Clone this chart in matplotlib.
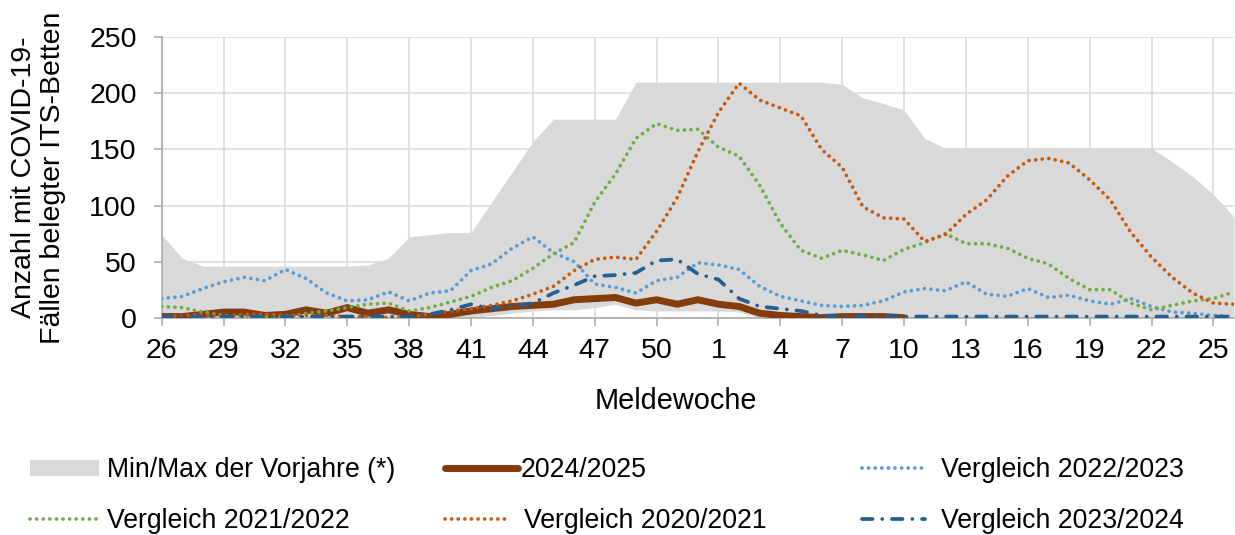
import numpy as np
import matplotlib
matplotlib.use('Agg')
import matplotlib.pyplot as plt
from matplotlib.patches import Patch
from matplotlib.lines import Line2D

plt.rcParams.update({'font.family': ['Liberation Sans', 'DejaVu Sans'], 'font.size': 20.5})

# week index 0..52 = Meldewoche 26 (2024) .. 26 (2025)
week_idx = np.arange(53)
tick_pos = list(range(0, 52, 3))
tick_labels = ['26', '29', '32', '35', '38', '41', '44', '47', '50', '1', '4', '7',
               '10', '13', '16', '19', '22', '25']

prev_max = [74, 53, 46, 46, 46, 46, 46, 46, 46, 46, 47, 53, 72, 74, 76, 76, 103, 130, 157, 177,
            177, 177, 177, 210, 210, 210, 210, 210, 210, 210, 210, 210, 210, 208, 196, 191, 185, 160,
            151, 151, 151, 151, 151, 151, 151, 151, 151, 151, 151, 139, 126, 110, 90]
prev_min = [0, 0, 0, 0, 0, 0, 0, 0, 0, 0, 0, 0, 0, 0, 0, 0, 2, 4, 6, 7,
            7, 9, 12, 7, 6, 6, 6, 6, 5, 0, 0, 0, 0, 0, 0, 0, 0, 0,
            0, 0, 0, 0, 0, 0, 0, 0, 0, 0, 0, 0, 0, 0, 0]
s2425 = [1, 1, 3, 5, 5, 2, 3, 7, 4, 9, 4, 7, 3, 1, 3, 6, 8, 10, 11, 12,
         16, 17, 18, 13, 16, 12, 16, 12, 10, 4, 2, 1, 0, 1, 1, 1, 0] + [np.nan] * 16
s2223 = [17, 19, 26, 32, 36, 33, 43, 35, 22, 15, 16, 23, 15, 22, 24, 42, 48, 62, 72, 58,
         50, 30, 27, 22, 33, 36, 49, 47, 43, 28, 19, 15, 11, 10, 11, 15, 23, 26,
         24, 32, 21, 19, 26, 18, 20, 15, 12, 17, 10, 5, 4, 2, 1]
s2122 = [10, 9, 5, 2, 1, 1, 0, 4, 6, 9, 12, 13, 6, 9, 14, 19, 27, 33, 44, 57,
         67, 103, 128, 160, 173, 167, 168, 152, 144, 118, 84, 60, 53, 60, 56, 51, 61, 67,
         75, 66, 66, 62, 53, 48, 35, 25, 25, 13, 7, 11, 15, 17, 23]
s2021 = [1, 2, 3, 1, 3, 3, 2, 2, 2, 1, 1, 0, 1, 3, 6, 8, 11, 15, 21, 28,
         42, 52, 54, 52, 77, 107, 148, 183, 209, 194, 187, 180, 150, 134, 99, 89, 88, 68,
         74, 92, 105, 126, 140, 142, 138, 123, 105, 76, 54, 36, 22, 13, 12]
s2324 = [1, 1, 1, 1, 1, 1, 1, 1, 1, 1, 1, 1, 1, 3, 7, 12, 8, 10, 13, 22,
         29, 37, 38, 40, 51, 52, 39, 34, 17, 10, 8, 6, 2, 1, 1, 1, 1, 1,
         1, 1, 1, 1, 1, 1, 1, 1, 1, 1, 1, 1, 1, 1, 1]

W, H = 1235, 535
fig = plt.figure(figsize=(W / 100, H / 100), dpi=100)
ax = fig.add_axes([161.7 / W, 1 - 317.7 / H, (1234 - 161.7) / W, (317.7 - 37.3) / H])

c_gray = '#d9d9d9'
c_brown = '#843c0c'
c_lblue = '#5b9bd5'
c_green = '#70ad47'
c_orange = '#c55a11'
c_dblue = '#255e91'
dot = (0, (0.01, 1.75))
dashdot = (0, (2.8, 2.6, 0.01, 2.6))
lw_dot = 2.7

ax.fill_between(week_idx, prev_min, prev_max, color=c_gray, lw=0, zorder=1)
ax.plot(week_idx[:len(s2425)], s2425, color=c_brown, lw=5, solid_capstyle='round',
        solid_joinstyle='round', zorder=3)
ax.plot(week_idx, s2223, color=c_lblue, lw=lw_dot, ls=dot, dash_capstyle='round', zorder=4)
ax.plot(week_idx, s2122, color=c_green, lw=lw_dot, ls=dot, dash_capstyle='round', zorder=4)
ax.plot(week_idx, s2021, color=c_orange, lw=lw_dot, ls=dot, dash_capstyle='round', zorder=4)
ax.plot(week_idx, s2324, color=c_dblue, lw=2.7, ls=dashdot, dash_capstyle='round', zorder=5)

ax.set_xlim(0, 52)
ax.set_ylim(0, 250)
ax.set_yticks([0, 50, 100, 150, 200, 250])
ax.set_xticks(tick_pos)
ax.set_xticklabels(tick_labels)
ax.grid(True, color=c_gray, lw=1.1, zorder=0)
ax.set_axisbelow(True)
for s in ['top', 'right']:
    ax.spines[s].set_visible(False)
for s in ['left', 'bottom']:
    ax.spines[s].set_color('#a6a6a6')
    ax.spines[s].set_linewidth(1.1)
ax.tick_params(axis='both', colors='#a6a6a6', labelcolor='black', length=6, width=1.1)
ax.tick_params(axis='x', pad=8.5)
ax.tick_params(axis='y', pad=12)

fig.text(38.5 / W, 1 - 177.5 / H, 'Anzahl mit COVID-19-\nFällen belegter ITS-Betten',
         rotation=90, ha='center', va='center', linespacing=1.12, fontsize=20.5)
fig.text(676 / W, 1 - 401 / H, 'Meldewoche', ha='center', va='center', fontsize=20.8)

fs = 19.2
def add_entry(handle, label, x, y, hl, pad):
    fig.legend(handles=[handle], labels=[label], loc='center left',
               bbox_to_anchor=(x / W, 1 - y / H), frameon=False, borderpad=0,
               borderaxespad=0, handlelength=hl, handletextpad=pad, fontsize=fs,
               handleheight=0.55)

add_entry(Patch(facecolor=c_gray, edgecolor='none'), 'Min/Max der Vorjahre (*)', 30, 470, 2.57, 0.3)
add_entry(Line2D([], [], color=c_brown, lw=5, solid_capstyle='round'), '2024/2025', 445, 470, 2.75, 0.08)
add_entry(Line2D([], [], color=c_lblue, lw=lw_dot, ls=dot, dash_capstyle='round'), 'Vergleich 2022/2023', 862, 470, 2.37, 0.6)
add_entry(Line2D([], [], color=c_green, lw=lw_dot, ls=dot, dash_capstyle='round'), 'Vergleich 2021/2022', 30, 521, 2.57, 0.3)
add_entry(Line2D([], [], color=c_orange, lw=lw_dot, ls=dot, dash_capstyle='round'), 'Vergleich 2020/2021', 445, 521, 2.37, 0.6)
add_entry(Line2D([], [], color=c_dblue, lw=2.7, ls=dashdot, dash_capstyle='round'), 'Vergleich 2023/2024', 862, 521, 2.37, 0.6)

fig.savefig('out.png', dpi=100)
